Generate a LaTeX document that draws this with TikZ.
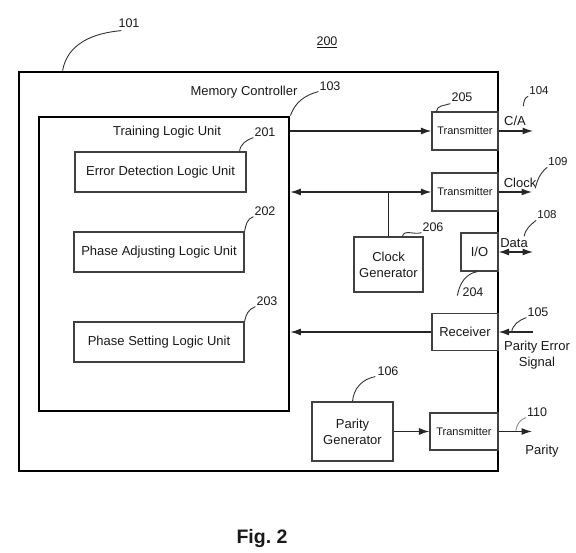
\documentclass[tikz,border=0pt]{standalone}
\usepackage{fontspec}
\setmainfont{Liberation Sans}
\usetikzlibrary{arrows.meta}
\begin{document}
\begin{tikzpicture}[x=1pt,y=1pt,
  every node/.style={font=\fontsize{13}{16}\selectfont, text=black!90, inner sep=0pt},
  bigbox/.style={draw=black, line width=2.8pt},
  unit/.style={draw=black!75, line width=1.2pt},
  arr/.style={line width=1.2pt, draw=black!85, -{Latex[length=10.5pt,width=7pt]}},
  darr/.style={line width=1.2pt, draw=black!85, {Latex[length=10.5pt,width=7pt]}-{Latex[length=10.5pt,width=7pt]}},
  plain/.style={line width=1.2pt, draw=black!85},
  leader/.style={line width=0.9pt, draw=black!80},
  small/.style={font=\fontsize{11}{13}\selectfont},
  num/.style={font=\fontsize{12.5}{14}\selectfont},
  numsm/.style={font=\fontsize{11.5}{13}\selectfont}]
\useasboundingbox (0,0) rectangle (576,553);

% boxes
\node[bigbox, minimum width=479pt, minimum height=399pt] (mc) at (258.5,281.5) {};
\node[bigbox, minimum width=250pt, minimum height=294pt] (tlu) at (164,289) {};
\node[unit, minimum width=171pt, minimum height=40pt] (ed) at (160.5,381) {Error Detection Logic Unit};
\node[unit, minimum width=170pt, minimum height=40pt] (pa) at (159,301) {Phase Adjusting Logic Unit};
\node[unit, minimum width=170pt, minimum height=40pt] (ps) at (159,211) {Phase Setting Logic Unit};
\node[unit, small, minimum width=66pt, minimum height=38pt] (t1) at (465,422) {Transmitter};
\node[unit, small, minimum width=66pt, minimum height=38pt] (t2) at (465,361) {Transmitter};
\node[unit, align=center, minimum width=69pt, minimum height=55pt] (cg) at (388.5,288.5) {Clock\\Generator};
\node[unit, minimum width=37pt, minimum height=38pt] (io) at (479.5,301) {I/O};
\node[unit, minimum width=66pt, minimum height=37pt] (rx) at (465,221) {Receiver};
\node[unit, align=center, minimum width=81pt, minimum height=59pt] (pg) at (352.5,121.5) {Parity\\Generator};
\node[unit, small, minimum width=68pt, minimum height=37pt] (t3) at (464,121.5) {Transmitter};

% texts
\node (lmc) at (244,461) {Memory Controller};
\node (ltlu) at (167,421) {Training Logic Unit};
\node (lca) at (515,432) {C/A};
\node (lclk) at (520,370) {Clock};
\node (ldat) at (514,310) {Data};
\node[align=center] (lpes) at (537,198) {Parity Error\\Signal};
\node (lpar) at (542,102) {Parity};
\node[font=\fontsize{19.5}{22}\selectfont\bfseries] (fig) at (262,14) {Fig.\ 2};

% reference numbers
\node[num] (n101) at (129,530) {101};
\node[num] (n200) at (327,511) {\underline{200}};
\node[num] (n103) at (330,467) {103};
\node[num] (n205) at (462,456) {205};
\node[numsm] (n104) at (539,462) {104};
\node[num] (n201) at (265,421) {201};
\node[num] (n202) at (265,342) {202};
\node[num] (n203) at (267,252) {203};
\node[num] (n206) at (433,326) {206};
\node[numsm] (n109) at (558,391) {109};
\node[numsm] (n108) at (547,338) {108};
\node[num] (n204) at (473,261) {204};
\node[num] (n105) at (538,241) {105};
\node[num] (n106) at (388,182) {106};
\node[num] (n110) at (537,141) {110};

% free ends of signals
\coordinate (ca) at (533,422);
\coordinate (clk) at (532,361);
\coordinate (dat) at (533,301);
\coordinate (pes) at (533,221);
\coordinate (par) at (532,121.5);

% connectors
\draw[arr] (tlu.east |- t1.west) -- (t1.west);
\draw[arr] (t1.east) -- (ca);
\draw[darr] (tlu.east |- t2.west) -- (t2.west);
\draw[plain] (cg.north) -- (cg.north |- t2.west);
\draw[arr] (t2.east) -- (clk);
\draw[darr] (io.east) -- (dat);
\draw[arr] (pes) -- (rx.east);
\draw[arr] (rx.west) -- (tlu.east |- rx.west);
\draw[arr] (pg.east) -- (t3.west);
\draw[arr] (t3.east) -- (par);

% leaders
\draw[leader] ([xshift=45pt]mc.north west) to[out=80,in=185] ([shift={(3pt,-3pt)}]n101.south west);
\draw[leader] (tlu.north east) to[out=70,in=195] ([shift={(-1pt,-1pt)}]n103.south west);
\draw[leader] ([xshift=5pt]t1.north west) to[out=85,in=200] ([shift={(-1pt,-2pt)}]n205.south west);
\draw[leader] ([xshift=-6pt,yshift=-11pt]n104.south west) to[out=80,in=200] ([shift={(-1pt,-1pt)}]n104.south west);
\draw[leader] ([xshift=-7pt]ed.north east) to[out=85,in=200] ([shift={(-1pt,-1pt)}]n201.south west);
\draw[leader] (pa.north east) to[out=80,in=200] ([shift={(-1pt,-1pt)}]n202.south west);
\draw[leader] (ps.north east) to[out=80,in=200] ([shift={(-1pt,-1pt)}]n203.south west);
\draw[leader] ([xshift=14pt]cg.north) to[out=80,in=200] ([shift={(-1pt,-1pt)}]n206.south west);
\draw[leader] ([xshift=-13pt,yshift=-22pt]n109.south west) to[out=75,in=220] ([shift={(-1pt,-1pt)}]n109.south west);
\draw[leader] ([xshift=-13pt,yshift=-17pt]n108.south west) to[out=80,in=220] ([shift={(-1pt,-1pt)}]n108.south west);
\draw[leader] ([shift={(-5pt,1pt)}]n204.south west) to[out=80,in=190] ([xshift=-2pt]io.south);
\draw[leader] ([xshift=-16pt,yshift=-16pt]n105.south west) to[out=80,in=200] ([shift={(-1pt,-1pt)}]n105.south west);
\draw[leader] (pg.north) to[out=85,in=190] ([shift={(-2pt,-1pt)}]n106.south west);
\draw[leader, draw=black!45] ([xshift=-11pt,yshift=-14pt]n110.south west) to[out=80,in=200] ([shift={(-1pt,-1pt)}]n110.south west);
\end{tikzpicture}
\end{document}
